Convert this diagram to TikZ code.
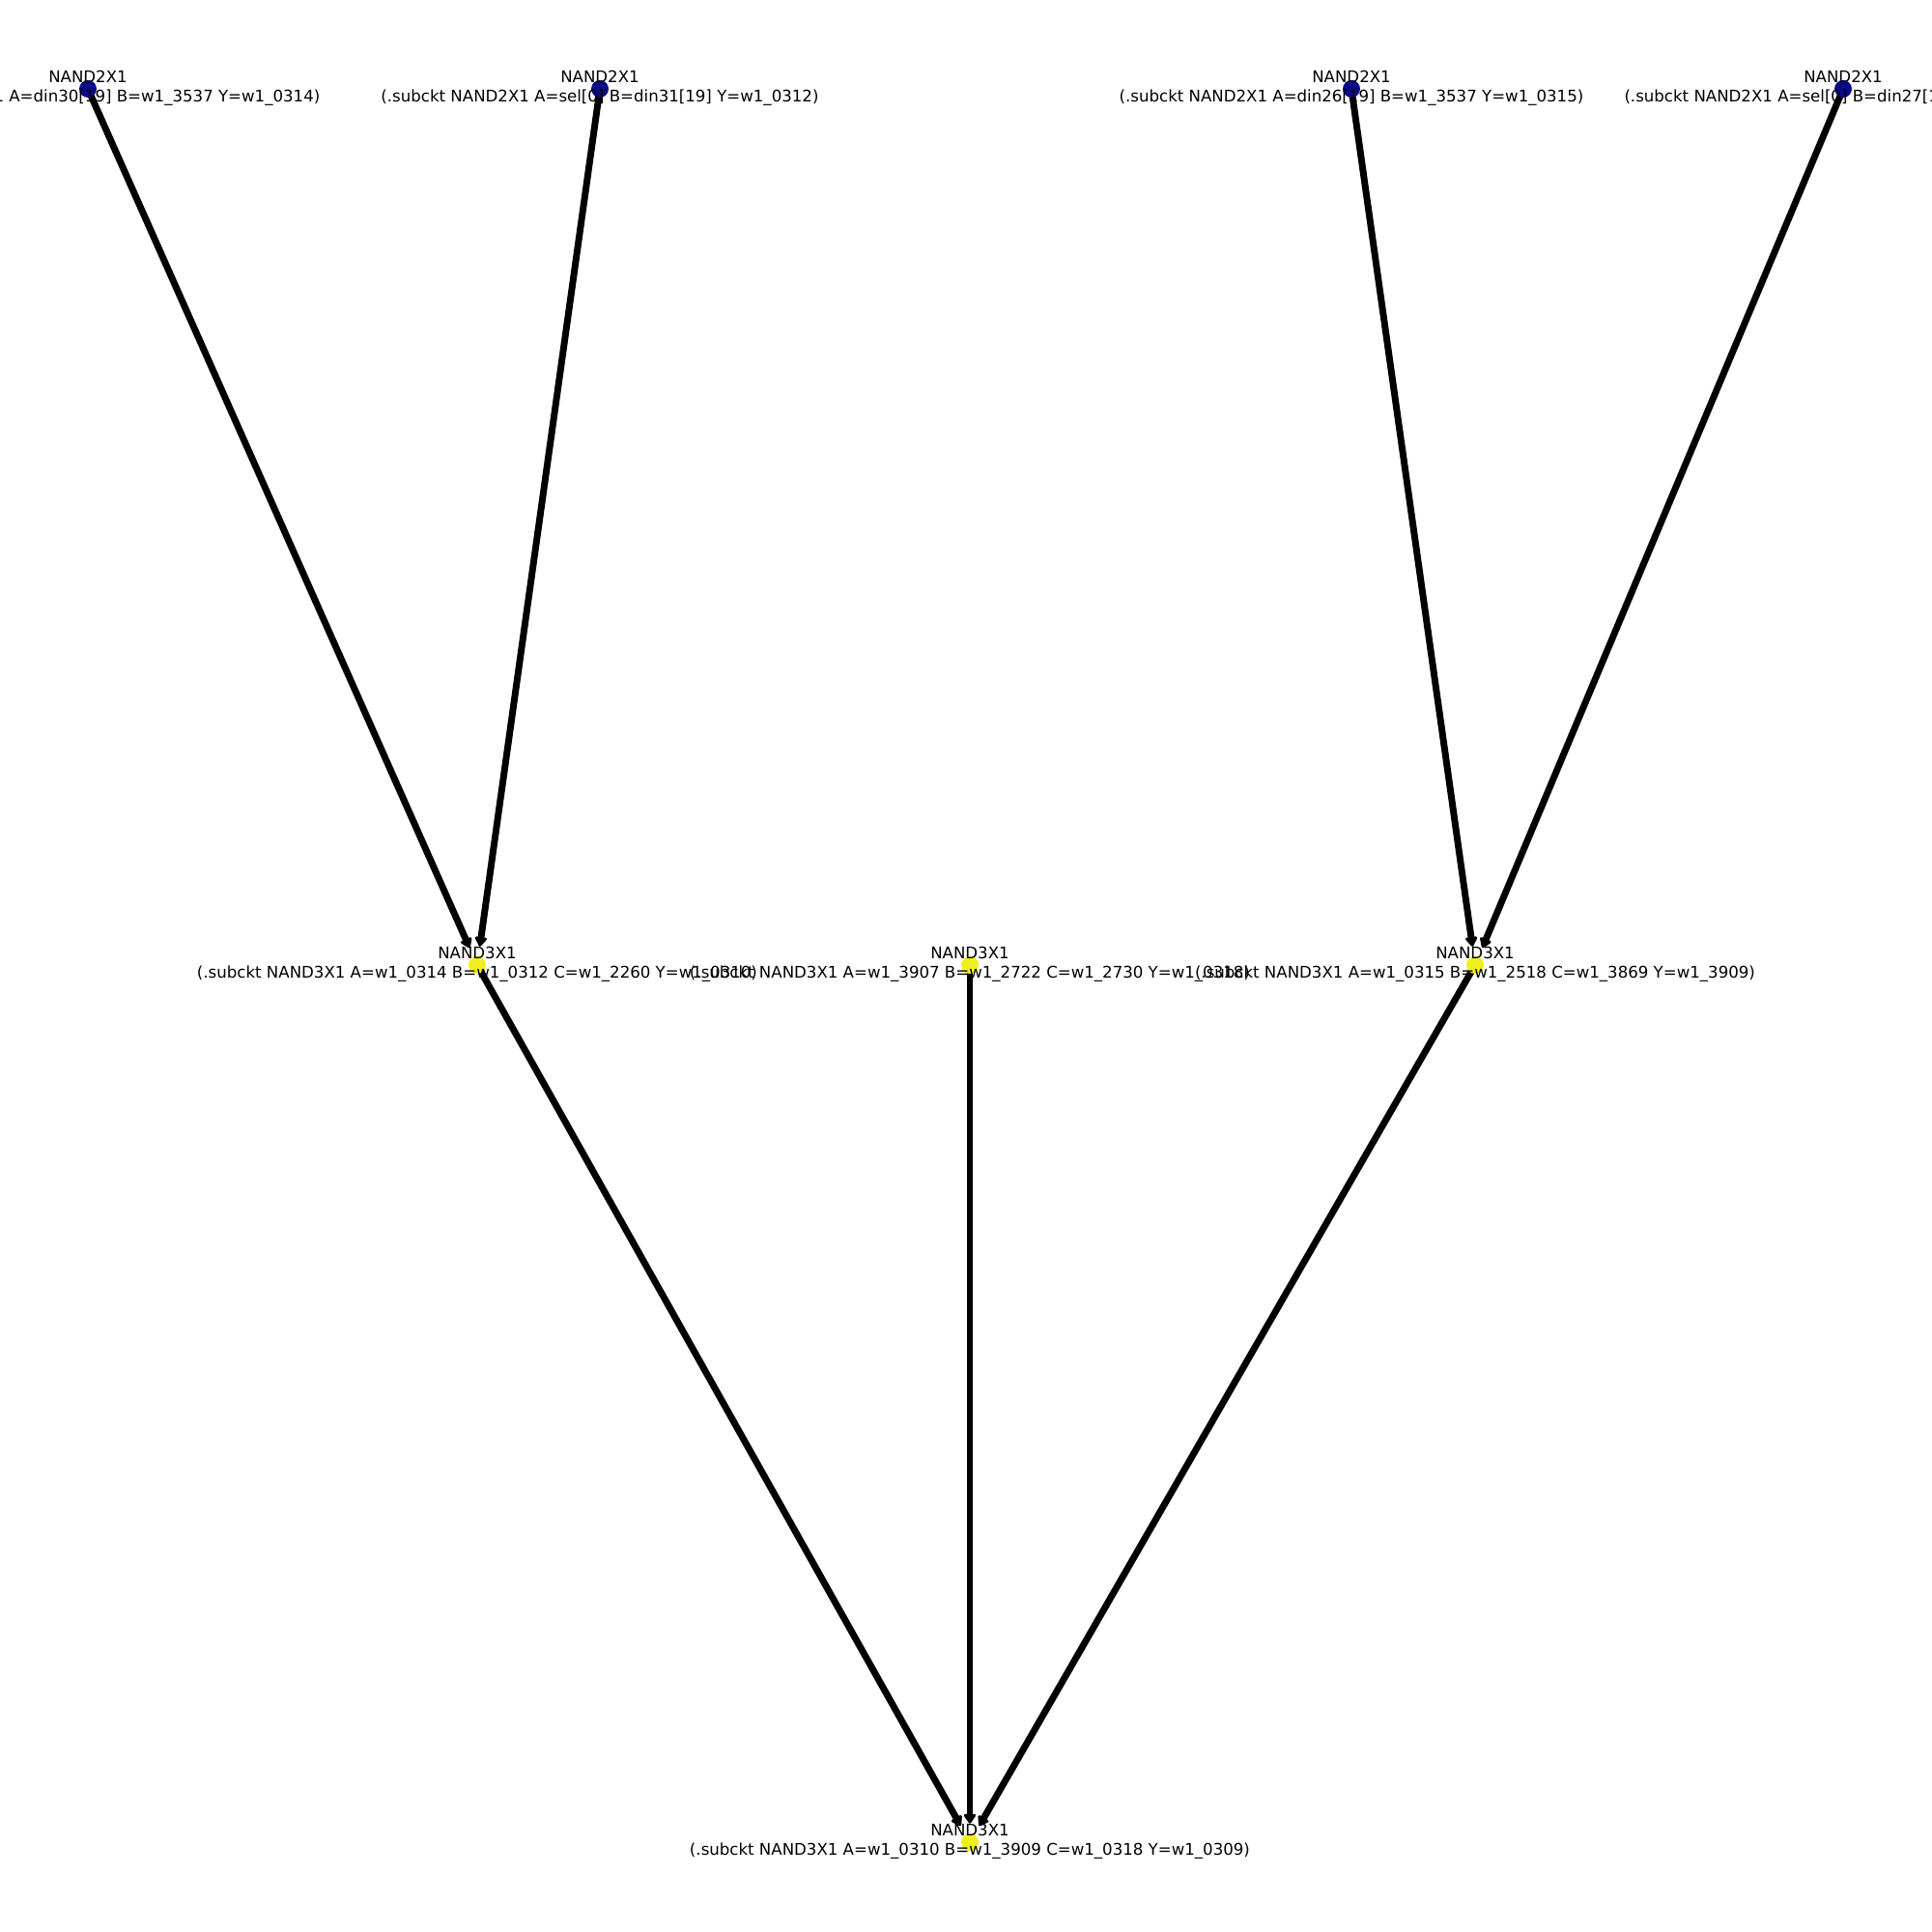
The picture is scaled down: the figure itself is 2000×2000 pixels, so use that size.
\documentclass[tikz,border=0pt]{standalone}
\usepackage{fontspec}
\setmainfont{DejaVu Sans}
\usetikzlibrary{arrows.meta}
\begin{document}
\begin{tikzpicture}[x=0.7227pt,y=-0.7227pt,
  gate2/.style={circle,inner sep=0pt,minimum size=13pt,fill={rgb,255:red,10;green,10;blue,135}},
  gate3/.style={circle,inner sep=0pt,minimum size=13pt,fill={rgb,255:red,240;green,240;blue,30}},
  lbl/.style={align=center,inner sep=0pt,font=\fontsize{12}{14.9}\selectfont},
  wire/.style={line width=5pt,line join=round,
    -{Stealth[length=8pt,width=10pt,inset=0pt,line width=2pt,line join=round,round]},shorten >=14pt}]
\useasboundingbox (0,0) rectangle (2000,2000);
\clip (0,0) rectangle (2000,2000);
% gate positions
\coordinate (g1) at (91,92);
\coordinate (g2) at (621,92);
\coordinate (g3) at (1399,92);
\coordinate (g4) at (1908,92);
\coordinate (m1) at (494,999);
\coordinate (m2) at (1004,999);
\coordinate (m3) at (1527,999);
\coordinate (b1) at (1004,1907);
% connections
\draw[wire] (g1) -- (m1);
\draw[wire] (g2) -- (m1);
\draw[wire] (g3) -- (m3);
\draw[wire] (g4) -- (m3);
\draw[wire] (m1) -- (b1);
\draw[wire] (m2) -- (b1);
\draw[wire] (m3) -- (b1);
% gate markers
\node[gate2] (n1) at (g1) {};
\node[gate2] (n2) at (g2) {};
\node[gate2] (n3) at (g3) {};
\node[gate2] (n4) at (g4) {};
\node[gate3] (n5) at (m1) {};
\node[gate3] (n6) at (m2) {};
\node[gate3] (n7) at (m3) {};
\node[gate3] (n8) at (b1) {};
% netlist labels
\node[lbl] (t1) at ([yshift=0.5pt]g1) {NAND2X1\\(.subckt NAND2X1 A=din30[19] B=w1\_3537 Y=w1\_0314)};
\node[lbl] (t2) at ([yshift=0.5pt]g2) {NAND2X1\\(.subckt NAND2X1 A=sel[0] B=din31[19] Y=w1\_0312)};
\node[lbl] (t3) at ([yshift=0.5pt]g3) {NAND2X1\\(.subckt NAND2X1 A=din26[19] B=w1\_3537 Y=w1\_0315)};
\node[lbl] (t4) at ([yshift=0.5pt]g4) {NAND2X1\\(.subckt NAND2X1 A=sel[0] B=din27[19] Y=w1\_0313)};
\node[lbl] (t5) at ([yshift=0.5pt]m1) {NAND3X1\\(.subckt NAND3X1 A=w1\_0314 B=w1\_0312 C=w1\_2260 Y=w1\_0310)};
\node[lbl] (t6) at ([yshift=0.5pt]m2) {NAND3X1\\(.subckt NAND3X1 A=w1\_3907 B=w1\_2722 C=w1\_2730 Y=w1\_0318)};
\node[lbl] (t7) at ([yshift=0.5pt]m3) {NAND3X1\\(.subckt NAND3X1 A=w1\_0315 B=w1\_2518 C=w1\_3869 Y=w1\_3909)};
\node[lbl] (t8) at ([yshift=0.5pt]b1) {NAND3X1\\(.subckt NAND3X1 A=w1\_0310 B=w1\_3909 C=w1\_0318 Y=w1\_0309)};
\end{tikzpicture}
\end{document}
